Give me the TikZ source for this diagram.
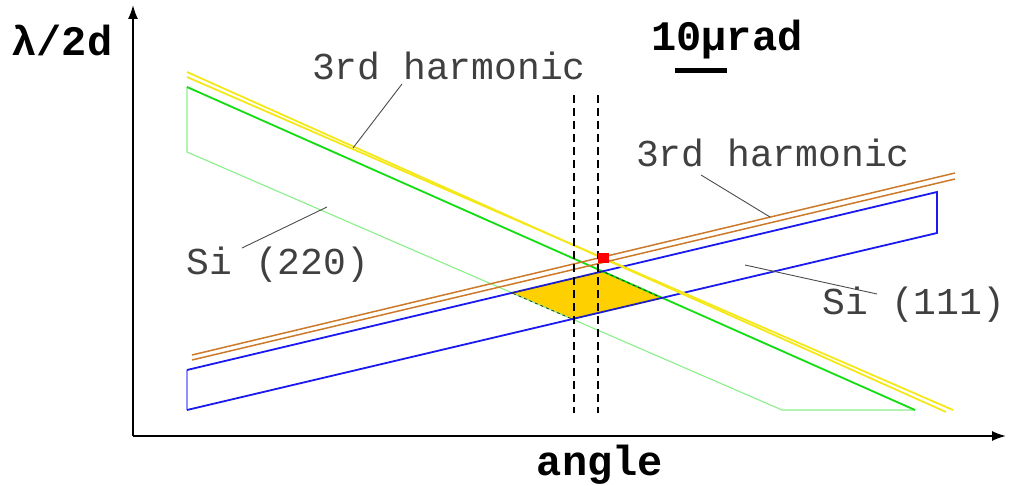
\documentclass[tikz,border=0pt]{standalone}
\usepackage{fontspec}
\setmonofont{Liberation Mono}
\usetikzlibrary{arrows.meta}
\definecolor{sigreen}{HTML}{11DD11}
\definecolor{sigreenlt}{HTML}{88F088}
\definecolor{siblue}{HTML}{1A1AF0}
\definecolor{sibluelt}{HTML}{9090FF}
\definecolor{harmyel}{HTML}{F4E81A}
\definecolor{harmbrn}{HTML}{CC7A2A}
\definecolor{overlap}{HTML}{FFD000}

\begin{document}
\begin{tikzpicture}[x=1pt, y=-1pt,
    lbl/.style={font=\fontsize{38}{40}\selectfont\ttfamily, text=black!75},
    axlbl/.style={font=\fontsize{42}{44}\selectfont\ttfamily\bfseries},
    leader/.style={black!70, line width=0.9pt},
    band/.style={line width=1.8pt},
    thinband/.style={line width=1.1pt}]
    \useasboundingbox (0,0) rectangle (1010,486);
    % overlap of the two crystals
    \fill[overlap] (512,293) -- (603,271.5) -- (662,298) -- (572,319) -- cycle;
    % Si (220)
    \draw[sigreenlt, thinband] (187,87) -- (187,152) -- (782,410) -- (915,410);
    \draw[sigreen, band] (187,87) -- (915,410);
    % Si (111)
    \draw[sibluelt, thinband] (187,370) -- (187,410);
    \draw[siblue, band] (187,410) -- (937,233) -- (937,192) -- (187,370);
    % 3rd harmonic lines
    \draw[harmyel, band] (187,72) -- (946,412);
    \draw[harmyel, band] (187,77) -- (953,410);
    \draw[harmbrn, line width=1.5pt] (192,355) -- (955,173);
    \draw[harmbrn, line width=1.5pt] (192,360) -- (955,179);
    % border of overlap
    \draw[black!80, line width=0.8pt, dash pattern=on 3pt off 3pt]
        (512,293) -- (603,271.5) -- (662,298) -- (572,319) -- cycle;
    % divergence
    \draw[line width=1.3pt, dash pattern=on 8pt off 5pt] (574,95) -- (574,413);
    \draw[line width=1.3pt, dash pattern=on 8pt off 5pt] (598,95) -- (598,413);
    \fill[red] (598,253) rectangle (609,263);
    % axes
    \coordinate (o) at (133,436);
    \coordinate (ytip) at (133,5);
    \coordinate (xtip) at (1006,436);
    \draw[line width=1.6pt, -{Latex[length=14pt, width=10pt]}] (o) -- (ytip);
    \draw[line width=1.6pt, -{Latex[length=14pt, width=10pt]}] (o) -- (xtip);
    \node[axlbl] (ylab) at (62,40) {λ/2d};
    \node[axlbl] (xlab) at (600,465) {angle};
    % scale
    \node[axlbl] (scl) at (727,40) {10µrad};
    \draw[line width=5pt] (675,71) -- (727,71);
    % labels
    \node[lbl] (h1) at (449,66) {3rd harmonic};
    \node[lbl] (h2) at (773,153) {3rd harmonic};
    \node[lbl] (s220) at (278,265) {Si (220)};
    \node[lbl] (s111) at (914,305) {Si (111)};
    \coordinate (h1end) at (353,148);
    \coordinate (h2end) at (770,217);
    \coordinate (s220end) at (327,207);
    \coordinate (s111end) at (745,265);
    \draw[leader] (402,84) -- (h1end);
    \draw[leader] (701,175) -- (h2end);
    \draw[leader] (242,248) -- (s220end);
    \draw[leader] (877,294) -- (s111end);
\end{tikzpicture}
\end{document}
